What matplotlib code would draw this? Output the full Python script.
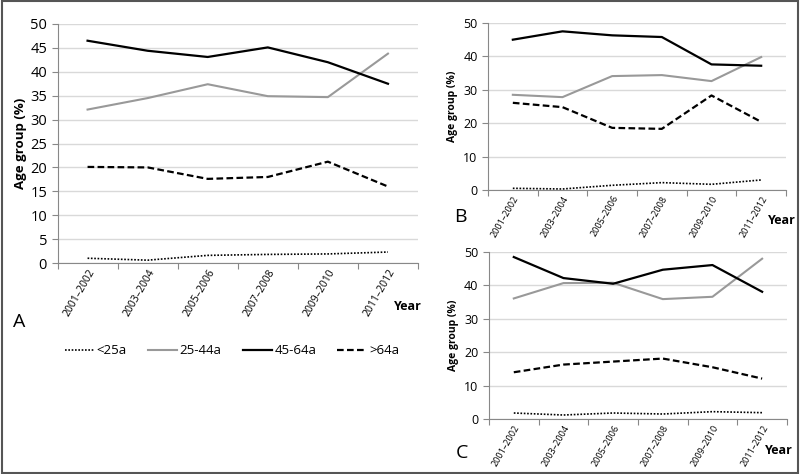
import matplotlib.pyplot as plt
from matplotlib.patches import Rectangle

plt.rcParams['font.family'] = ['Open Sans', 'DejaVu Sans']

years = ["2001\u20132002", "2003\u20132004", "2005\u20132006",
         "2007\u20132008", "2009\u20132010", "2011\u20132012"]
groups = ["<25a", "25-44a", "45-64a", ">64a"]

# panel A
a_lt25 = [1.0, 0.6, 1.6, 1.8, 1.9, 2.3]
a_25_44 = [32.1, 34.5, 37.4, 34.9, 34.7, 43.8]
a_45_64 = [46.5, 44.4, 43.1, 45.1, 42.0, 37.5]
a_gt64 = [20.1, 20.0, 17.6, 18.0, 21.2, 16.0]

# panel B
b_lt25 = [0.5, 0.3, 1.4, 2.2, 1.7, 3.0]
b_25_44 = [28.5, 27.8, 34.1, 34.4, 32.6, 39.8]
b_45_64 = [45.0, 47.5, 46.3, 45.8, 37.6, 37.2]
b_gt64 = [26.1, 24.8, 18.6, 18.3, 28.3, 20.4]

# panel C
c_lt25 = [1.8, 1.2, 1.8, 1.5, 2.2, 1.9]
c_25_44 = [36.1, 40.7, 40.8, 35.9, 36.6, 48.0]
c_45_64 = [48.5, 42.2, 40.5, 44.7, 46.1, 38.1]
c_gt64 = [14.0, 16.3, 17.2, 18.1, 15.5, 12.1]

styles = [dict(color="black", ls=(0, (1, 1)), lw=1.2),
          dict(color="#999999", ls="-", lw=1.5),
          dict(color="black", ls="-", lw=1.6),
          dict(color="black", ls=(0, (3, 1.5)), lw=1.6)]


def draw(ax, series, ystep, ylab_size, ytick_size, xtick_size):
    xs = [i + 0.5 for i in range(len(years))]
    lines = []
    for vals, st in zip(series, styles):
        ln, = ax.plot(xs, vals, **st)
        lines.append(ln)
    ax.set_xlim(0, 6)
    ax.set_ylim(0, 50)
    ax.set_yticks(range(0, 51, ystep))
    ax.yaxis.grid(True, color="#d9d9d9", lw=1)
    ax.set_axisbelow(True)
    ax.set_xticks(range(7))
    ax.set_xticklabels([])
    ax.set_xticks(xs, minor=True)
    ax.set_xticklabels(years, minor=True, rotation=60, ha="right",
                       rotation_mode="anchor", fontsize=xtick_size)
    ax.tick_params(axis="x", which="minor", length=0, pad=3)
    ax.tick_params(axis="x", which="major", length=4, color="#888888")
    ax.tick_params(axis="y", length=4, color="#888888", labelsize=ytick_size)
    for s in ["top", "right"]:
        ax.spines[s].set_visible(False)
    for s in ["left", "bottom"]:
        ax.spines[s].set_color("#888888")
    ax.set_ylabel("Age group (%)", fontweight="bold", fontsize=ylab_size)
    return lines


fig = plt.figure(figsize=(8, 4.74), dpi=100)

ax_a = fig.add_axes([0.0719, 0.4451, 0.4506, 0.5043])
lines = draw(ax_a, [a_lt25, a_25_44, a_45_64, a_gt64], 5, 9.5, 10.5, 7.5)
ax_a.yaxis.set_label_coords(-0.085, 0.5)

ax_b = fig.add_axes([0.61, 0.5992, 0.3725, 0.3523])
draw(ax_b, [b_lt25, b_25_44, b_45_64, b_gt64], 10, 7.5, 9, 6.5)
ax_b.yaxis.set_label_coords(-0.1, 0.5)

ax_c = fig.add_axes([0.6112, 0.116, 0.3725, 0.3523])
draw(ax_c, [c_lt25, c_25_44, c_45_64, c_gt64], 10, 7.5, 9, 6.5)
ax_c.yaxis.set_label_coords(-0.1, 0.5)

fig.text(0.492, 1 - 306 / 474, "Year", fontweight="bold", fontsize=9, va="center")
fig.text(0.96, 1 - 220 / 474, "Year", fontweight="bold", fontsize=9, va="center")
fig.text(0.956, 1 - 450 / 474, "Year", fontweight="bold", fontsize=9, va="center")

fig.text(0.016, 1 - 322 / 474, "A", fontsize=14, va="center")
fig.text(0.568, 1 - 217 / 474, "B", fontsize=14, va="center")
fig.text(0.570, 1 - 453 / 474, "C", fontsize=14, va="center")

fig.legend(lines, groups, loc="center", bbox_to_anchor=(0.29, 1 - 351 / 474),
           ncol=4, frameon=False, fontsize=9.5, handlelength=2.2,
           handletextpad=0.2, columnspacing=1.6)

fig.patches.append(Rectangle((0.002, 0.003), 0.996, 0.994, transform=fig.transFigure,
                             fill=False, edgecolor="#555555", lw=1.5))

fig.savefig("out.png", dpi=100)
